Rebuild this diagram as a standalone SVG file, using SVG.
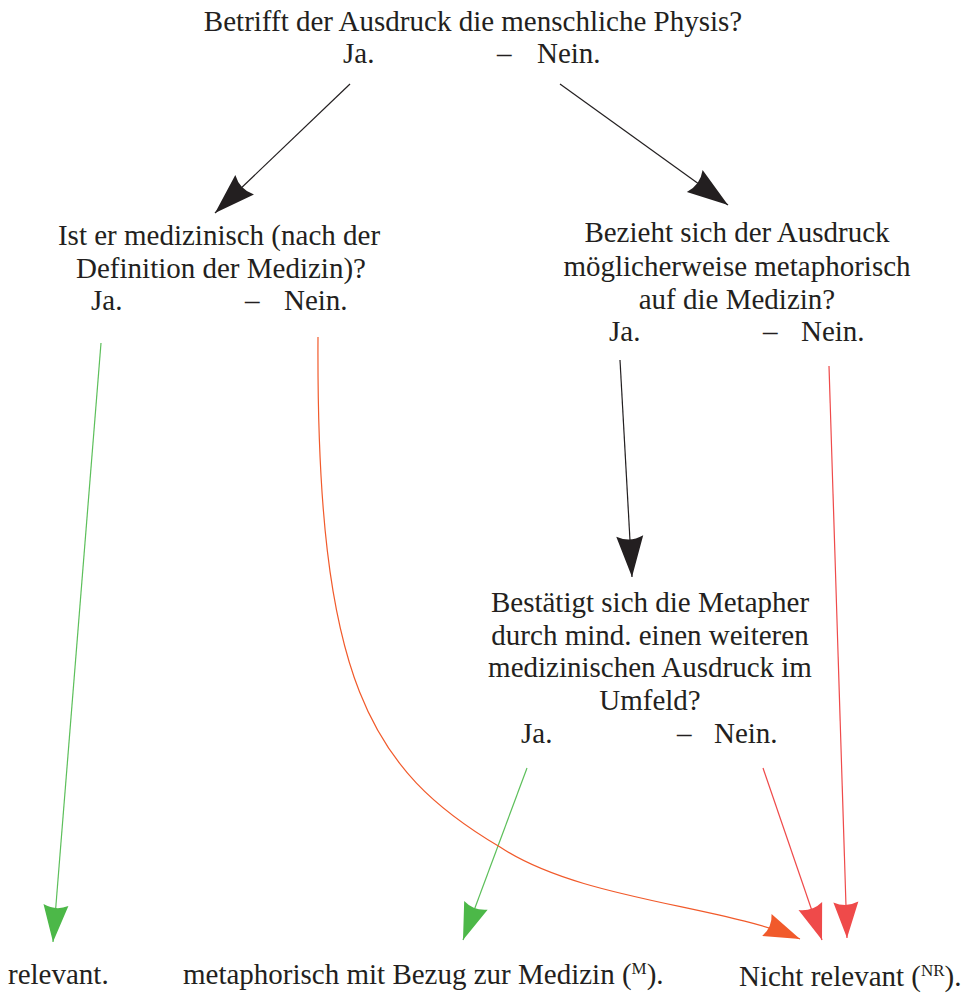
<svg xmlns="http://www.w3.org/2000/svg" width="970" height="994" viewBox="0 0 970 994">
<style>
text{font-family:"Liberation Serif","Times New Roman",serif;font-size:29px;fill:#231f20}
.c{text-anchor:middle}
.sup{font-size:17px}
.ln{fill:none;stroke-width:1.2}
</style>
<defs>
<marker id="hb" markerUnits="userSpaceOnUse" orient="auto" markerWidth="60" markerHeight="40" viewBox="-50 -20 60 40" refX="0" refY="0" overflow="visible"><path d="M0,0 L-41,-13.5 Q-34,0 -41,13.5 Z" fill="#231f20"/></marker>
<marker id="hg" markerUnits="userSpaceOnUse" orient="auto" markerWidth="60" markerHeight="40" viewBox="-50 -20 60 40" refX="0" refY="0" overflow="visible"><path d="M0,0 L-37,-12.5 Q-31,0 -37,12.5 Z" fill="#4cb848"/></marker>
<marker id="ho" markerUnits="userSpaceOnUse" orient="auto" markerWidth="60" markerHeight="40" viewBox="-50 -20 60 40" refX="0" refY="0" overflow="visible"><path d="M0,0 L-36,-12 Q-30,0 -36,12 Z" fill="#f15a2b"/></marker>
<marker id="hr" markerUnits="userSpaceOnUse" orient="auto" markerWidth="60" markerHeight="40" viewBox="-50 -20 60 40" refX="0" refY="0" overflow="visible"><path d="M0,0 L-36,-12.5 Q-30,0 -36,12.5 Z" fill="#ef4a4a"/></marker>
</defs>
<g id="connectors">
<path class="ln" d="M350,84 L215,213" stroke="#231f20" marker-end="url(#hb)"/>
<path class="ln" d="M560,84 L728,205" stroke="#231f20" marker-end="url(#hb)"/>
<path class="ln" d="M620,360 L632,577" stroke="#231f20" marker-end="url(#hb)"/>
<path class="ln" d="M101,343 L53,942" stroke="#5cbf5a" marker-end="url(#hg)"/>
<path class="ln" d="M527,768 L463,940" stroke="#5cbf5a" marker-end="url(#hg)"/>
<path class="ln" d="M318,337 C316,680 370,770 500,847 C580,900 720,905 800,939" stroke="#f15a2b" marker-end="url(#ho)"/>
<path class="ln" d="M763,768 L822,940" stroke="#ef4a4a" marker-end="url(#hr)"/>
<path class="ln" d="M829,366 L847,938" stroke="#ef4a4a" marker-end="url(#hr)"/>
</g>
<g id="q1">
<text class="c" x="473" y="31">Betrifft der Ausdruck die menschliche Physis?</text>
<text x="343" y="63">Ja.</text>
<text x="497" y="63">–</text>
<text x="537" y="63">Nein.</text>
</g>
<g id="q2">
<text class="c" x="219" y="245">Ist er medizinisch (nach der</text>
<text class="c" x="221" y="278">Definition der Medizin)?</text>
<text x="91" y="310">Ja.</text>
<text x="245" y="310">–</text>
<text x="284" y="310">Nein.</text>
</g>
<g id="q3">
<text class="c" x="737" y="242">Bezieht sich der Ausdruck</text>
<text class="c" x="737" y="276">möglicherweise metaphorisch</text>
<text class="c" x="737" y="309">auf die Medizin?</text>
<text x="609" y="341">Ja.</text>
<text x="763" y="341">–</text>
<text x="801" y="341">Nein.</text>
</g>
<g id="q4">
<text class="c" x="650" y="612">Bestätigt sich die Metapher</text>
<text class="c" x="650" y="645">durch mind. einen weiteren</text>
<text class="c" x="650" y="677">medizinischen Ausdruck im</text>
<text class="c" x="650" y="710">Umfeld?</text>
<text x="521" y="743">Ja.</text>
<text x="677" y="743">–</text>
<text x="714" y="743">Nein.</text>
</g>
<g id="r1"><text x="8" y="984">relevant.</text></g>
<g id="r2"><text x="183" y="984">metaphorisch mit Bezug zur Medizin (<tspan class="sup" dy="-10">M</tspan><tspan dy="10">).</tspan></text></g>
<g id="r3"><text x="739" y="986">Nicht relevant (<tspan class="sup" dy="-10">NR</tspan><tspan dy="10">).</tspan></text></g>
</svg>
